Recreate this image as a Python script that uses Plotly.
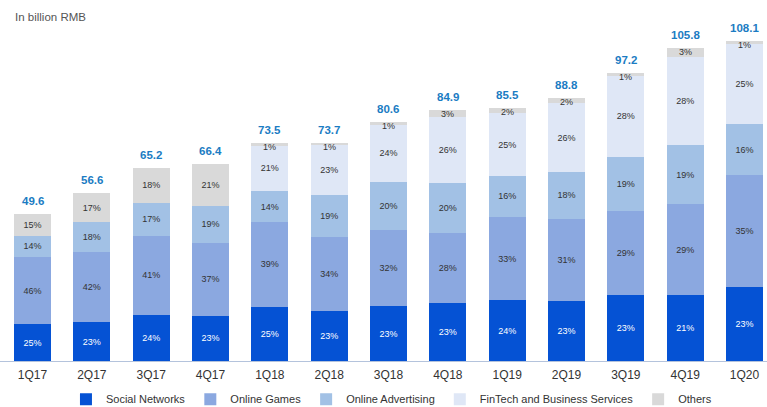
import plotly.graph_objects as go

quarters = ["1Q17", "2Q17", "3Q17", "4Q17", "1Q18", "2Q18", "3Q18", "4Q18",
            "1Q19", "2Q19", "3Q19", "4Q19", "1Q20"]
totals = [49.6, 56.6, 65.2, 66.4, 73.5, 73.7, 80.6, 84.9, 85.5, 88.8, 97.2, 105.8, 108.1]

social_pct = [25, 23, 24, 23, 25, 23, 23, 23, 24, 23, 23, 21, 23]
games_pct = [46, 42, 41, 37, 39, 34, 32, 28, 33, 31, 29, 29, 35]
ads_pct = [14, 18, 17, 19, 14, 19, 20, 20, 16, 18, 19, 19, 16]
fintech_pct = [0, 0, 0, 0, 21, 23, 24, 26, 25, 26, 28, 28, 25]
others_pct = [15, 17, 18, 21, 1, 1, 1, 3, 2, 2, 1, 3, 1]

series = [
    ("Social Networks", social_pct, "#0552d4", "white"),
    ("Online Games", games_pct, "#8ba8e0", "#333333"),
    ("Online Advertising", ads_pct, "#a2c1e5", "#333333"),
    ("FinTech and Business Services", fintech_pct, "#dfe7f6", "#333333"),
    ("Others", others_pct, "#d9d9d9", "#333333"),
]

FONT = "Liberation Sans, Arial, sans-serif"
fig = go.Figure()
for name, pct, color, tcolor in series:
    vals = [t * p / 100 for t, p in zip(totals, pct)]
    if name == "Others":
        text = [f"{p}%" if p >= 10 else "" for p in pct]
    else:
        text = [f"{p}%" if p > 0 else "" for p in pct]
    fig.add_trace(go.Bar(
        name=name, x=quarters, y=vals, marker=dict(color=color, line=dict(width=0)),
        text=text, textposition="inside", insidetextanchor="middle",
        textangle=0, constraintext="none",
        textfont=dict(size=9, color=tcolor, family=FONT),
        hovertemplate=name + " %{x}: %{text}<extra></extra>",
    ))

annotations = []
for q, t, p in zip(quarters, totals, others_pct):
    annotations.append(dict(x=q, y=t, text=f"<b>{t}</b>", showarrow=False,
                            yanchor="middle", yshift=13,
                            font=dict(size=11.5, color="#1b7cc3", family=FONT)))
    if p < 10:
        annotations.append(dict(x=q, y=t, text=f"{p}%", showarrow=False,
                                yanchor="middle", yshift=-4,
                                font=dict(size=9, color="#333333", family=FONT)))
annotations.append(dict(xref="paper", yref="paper", x=13 / 767, y=(361 - 17) / 341,
                        xanchor="left", yanchor="middle", showarrow=False,
                        text="In billion RMB", font=dict(size=11.5, color="#555555", family=FONT)))

fig.update_layout(
    barmode="stack", bargap=0.375,
    width=767, height=407,
    margin=dict(l=0, r=0, t=20, b=46, pad=0, autoexpand=False),
    paper_bgcolor="white", plot_bgcolor="white",
    font=dict(family=FONT, color="#333333"),
    showlegend=True,
    legend=dict(orientation="h", x=0.086, xanchor="left", y=-0.112, yanchor="middle",
                font=dict(size=11, color="#333333", family=FONT),
                traceorder="normal", bgcolor="rgba(0,0,0,0)"),
    annotations=annotations,
    xaxis=dict(type="category", range=[-0.548, 12.38], showgrid=False, zeroline=False,
               showline=True, linecolor="#b4c3dc", linewidth=1, ticks="",
               ticklabelstandoff=3,
               tickfont=dict(size=12, color="#333333", family=FONT)),
    yaxis=dict(range=[0, 115.2], visible=False, showgrid=False, zeroline=False),
)

fig.write_html("out.html")
